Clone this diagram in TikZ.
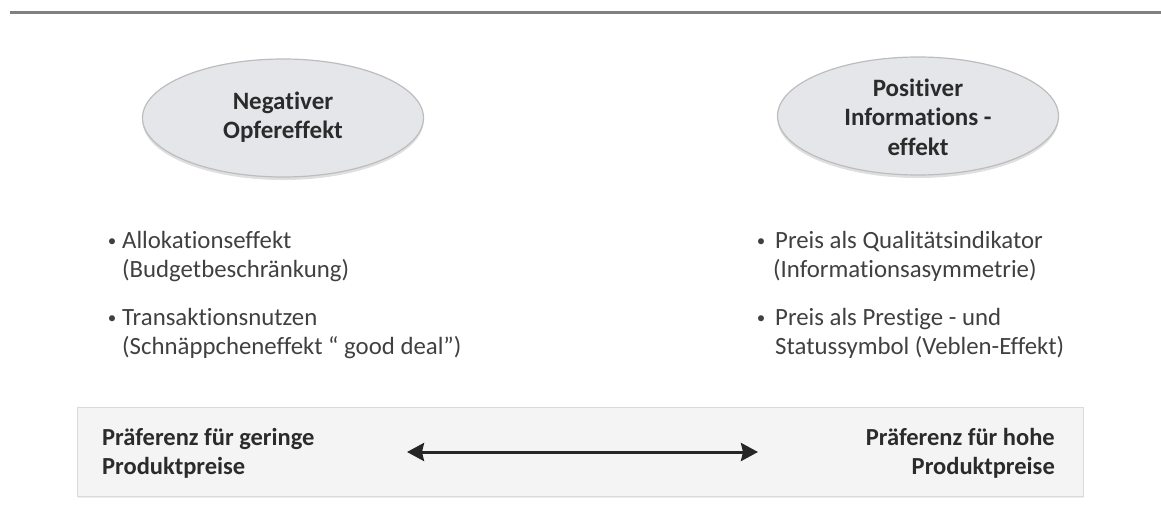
\documentclass[tikz,border=0pt]{standalone}
\usepackage{fontspec}
\setmainfont{Carlito}[Ligatures=NoCommon]
\usetikzlibrary{arrows.meta,shadows,shapes.geometric}
\definecolor{ellfill}{HTML}{E4E6E9}
\definecolor{ellline}{HTML}{BDBDBD}
\definecolor{boxfill}{HTML}{F4F4F4}
\definecolor{boxline}{HTML}{DADADA}
\definecolor{txtgray}{HTML}{404040}
\definecolor{darktxt}{HTML}{2B2B2B}
\tikzset{
  ovalbox/.style={ellipse, draw=ellline, line width=1.2pt, fill=ellfill, minimum width=281pt, minimum height=118pt, inner sep=0pt,
    drop shadow={opacity=0.25, shadow xshift=0pt, shadow yshift=-3pt}},
  ovaltext/.style={align=center, text=darktxt, font=\fontsize{25}{29.5}\selectfont\bfseries, inner sep=0pt},
  itemline/.style={anchor=base west, text=txtgray, font=\fontsize{24.8}{29}\selectfont, inner sep=0pt},
  bulletmark/.style={anchor=base, text=txtgray, font=\fontsize{17}{20}\selectfont, inner sep=0pt},
  prefbox/.style={draw=boxline, line width=1pt, fill=boxfill, minimum width=1006pt, minimum height=89pt, inner sep=0pt,
    drop shadow={opacity=0.15, shadow xshift=1pt, shadow yshift=-2pt}},
  preftext/.style={text=darktxt, font=\fontsize{24.5}{29}\selectfont\bfseries, inner sep=0pt},
  twoway/.style={{Stealth[length=17pt,width=18pt,inset=2pt]}-{Stealth[length=17pt,width=18pt,inset=2pt]}, line width=3pt, draw=black!85}
}
\begin{document}
\begin{tikzpicture}[x=1pt,y=-1pt]
\useasboundingbox (0,0) rectangle (1161,517);
% top rule
\coordinate (ruleL) at (10,12.7);
\coordinate (ruleR) at (1161,12.7);
\draw[line width=3pt, draw=black!50] (ruleL) -- (ruleR);
% ellipses
\node[ovalbox] (ellL) at (283,118) {};
\node[ovaltext] (txtL) at (283,117) {Negativer\\Opfereffekt};
\node[ovalbox] (ellR) at (918,116) {};
\node[ovaltext] (txtR) at (918,117) {Positiver\\Informations -\\effekt};
% left bullets
\node[bulletmark] (bL1) at (112,246) {•};
\node[itemline] (l1) at (122,248) {Allokationseffekt};
\node[itemline] (l2) at (122,277) {(Budgetbeschränkung)};
\node[bulletmark] (bL2) at (112,323) {•};
\node[itemline] (l3) at (122,325) {Transaktionsnutzen};
\node[itemline] (l4) at (122,354) {(Schnäppcheneffekt “ good deal”)};
% right bullets
\node[bulletmark] (bR1) at (761,246) {•};
\node[itemline] (r1) at (775,248) {Preis als Qualitätsindikator};
\node[itemline] (r2) at (773,277) {(Informationsasymmetrie)};
\node[bulletmark] (bR2) at (761,323) {•};
\node[itemline] (r3) at (775,325) {Preis als Prestige - und};
\node[itemline] (r4) at (775,354) {Statussymbol (Veblen-Effekt)};
% bottom box
\node[prefbox] (box) at (580,451.5) {};
\node[preftext, anchor=west, align=left] (prefL) at (102,453) {Präferenz für geringe\\Produktpreise};
\node[preftext, anchor=east, align=right] (prefR) at (1055,453) {Präferenz für hohe\\Produktpreise};
\coordinate (aL) at (407,452);
\coordinate (aR) at (758,452);
\draw[twoway] (aL) -- (aR);
\end{tikzpicture}
\end{document}
